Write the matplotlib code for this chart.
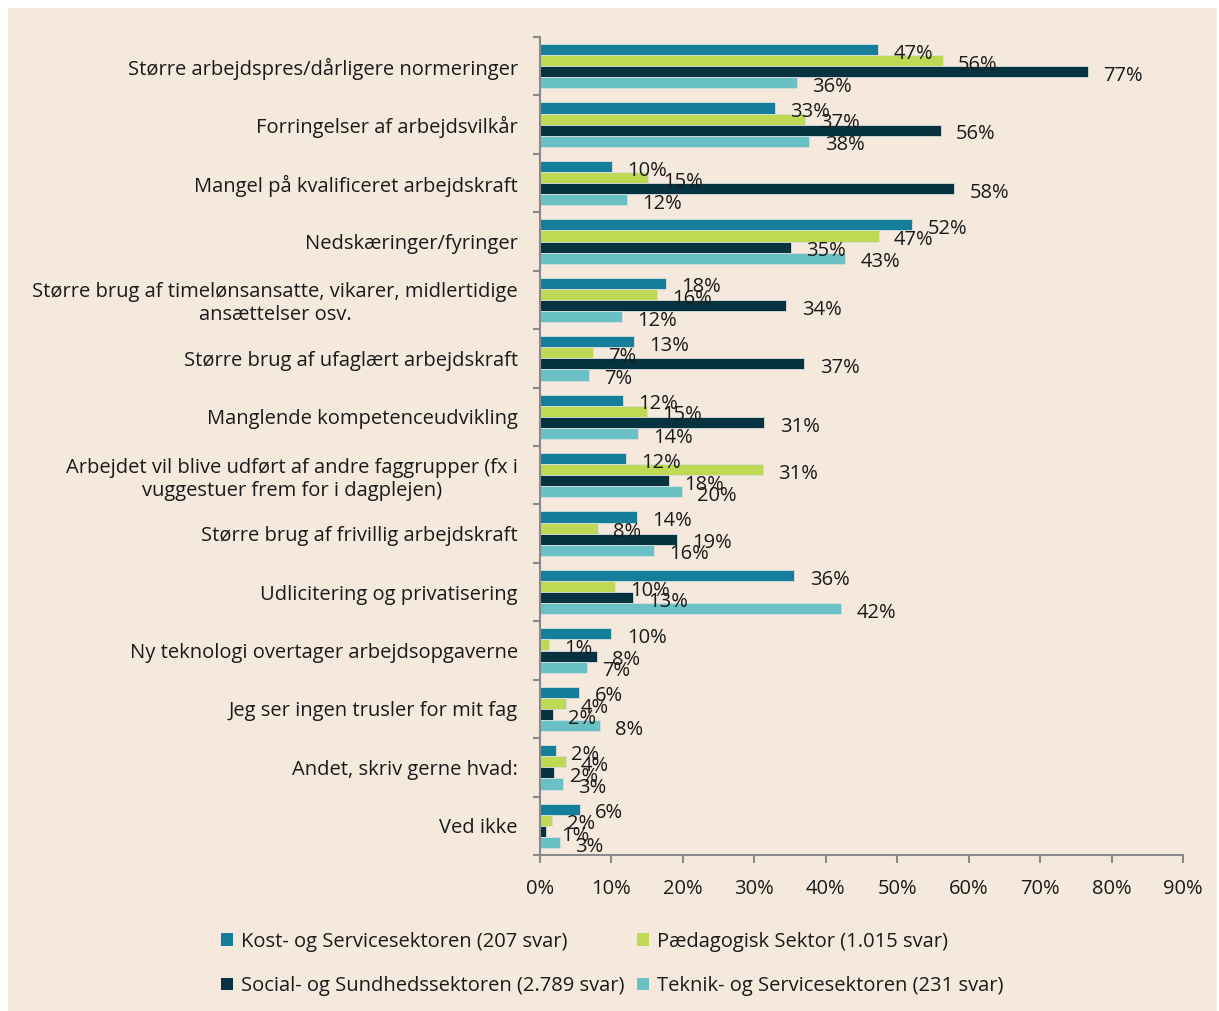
import numpy as np
import matplotlib.pyplot as plt
from matplotlib.patches import Rectangle, Patch

# ============================================================================
# 데이터
# ============================================================================
categories = [
    "Større arbejdspres/dårligere normeringer",
    "Forringelser af arbejdsvilkår",
    "Mangel på kvalificeret arbejdskraft",
    "Nedskæringer/fyringer",
    "Større brug af timelønsansatte, vikarer, midlertidige\nansættelser osv.",
    "Større brug af ufaglært arbejdskraft",
    "Manglende kompetenceudvikling",
    "Arbejdet vil blive udført af andre faggrupper (fx i\nvuggestuer frem for i dagplejen)",
    "Større brug af frivillig arbejdskraft",
    "Udlicitering og privatisering",
    "Ny teknologi overtager arbejdsopgaverne",
    "Jeg ser ingen trusler for mit fag",
    "Andet, skriv gerne hvad:",
    "Ved ikke",
]

kost   = [47.3, 32.9, 10.1, 52.1, 17.6, 13.2, 11.6, 12.0, 13.6, 35.6, 10.0, 5.5, 2.2, 5.6]
paed   = [56.4, 37.1, 15.1, 47.4, 16.4, 7.4, 15.0, 31.2, 8.1, 10.5, 1.3, 3.6, 3.6, 1.7]
social = [76.7, 56.1, 58.0, 35.1, 34.5, 37.0, 31.4, 18.1, 19.2, 13.0, 8.0, 1.8, 2.0, 0.8]
teknik = [36.0, 37.7, 12.2, 42.7, 11.5, 6.9, 13.7, 19.9, 15.9, 42.2, 6.6, 8.4, 3.2, 2.8]

series_names = [
    "Kost- og Servicesektoren (207 svar)",
    "Pædagogisk Sektor (1.015 svar)",
    "Social- og Sundhedssektoren (2.789 svar)",
    "Teknik- og Servicesektoren (231 svar)",
]
series_vals = [kost, paed, social, teknik]
colors = ["#147e9b", "#bfd955", "#073340", "#69c1c5"]

xticks = np.arange(0, 91, 10)

# ============================================================================
# 스타일
# ============================================================================
BG = "#f5e9dd"
SPINE = "#8a8a8a"
TXT = "#1a1a1a"
FS = 14.5
plt.rcParams["font.family"] = ["Open Sans", "DejaVu Sans"]

fig = plt.figure(figsize=(12.19, 10.11), dpi=100, facecolor="white")
# 배경 (위/왼쪽 흰 여백) — 축보다 먼저 그리도록 zorder 낮춤
fig.patches.append(Rectangle((8 / 1219, 0), 1209 / 1219, 1003 / 1011,
                             transform=fig.transFigure, facecolor=BG,
                             edgecolor="none", zorder=-5))

ax = fig.add_axes([540 / 1219, 156 / 1011, 643 / 1219, 818 / 1011])
ax.set_facecolor("none")

n = len(categories)
y = np.arange(n)
h = 0.19
offsets = np.array([-1.5, -0.5, 0.5, 1.5]) * h

for k, (vals, c) in enumerate(zip(series_vals, colors)):
    ax.barh(y + offsets[k], vals, height=h, color=c,
            edgecolor="#d9dedd", linewidth=0.6, zorder=2)
    for yi, v in zip(y + offsets[k], vals):
        ax.annotate(f"{v:.0f}%", (v, yi), xytext=(11, -3),
                    textcoords="offset points", ha="left", va="center",
                    fontsize=FS, color=TXT, zorder=3)

ax.set_xlim(0, 90)
ax.set_ylim(n - 0.5, -0.5)
ax.set_xticks(xticks)
ax.set_xticklabels([f"{t}%" for t in xticks], fontsize=FS, color=TXT)
ax.set_yticks(y)
ax.set_yticklabels(categories, fontsize=FS, color=TXT, multialignment="center")
ax.set_yticks(np.arange(n + 1) - 0.5, minor=True)

ax.tick_params(axis="y", which="major", length=0, pad=16)
ax.tick_params(axis="y", which="minor", length=5, width=1.5, color=SPINE)
ax.tick_params(axis="x", length=6, width=1.5, color=SPINE, pad=11)

for s in ["top", "right"]:
    ax.spines[s].set_visible(False)
for s in ["left", "bottom"]:
    ax.spines[s].set_color(SPINE)
    ax.spines[s].set_linewidth(1.5)

# ============================================================================
# 범례 — 행 단위 순서(2열)로 맞추기 위해 재배열
# ============================================================================
order = [0, 2, 1, 3]
handles = [Patch(facecolor=colors[i], edgecolor="none") for i in order]
labels = [series_names[i] for i in order]
fig.legend(handles, labels, loc="center", ncol=2,
           bbox_to_anchor=(612 / 1219, 1 - 964 / 1011), frameon=False,
           fontsize=FS, handlelength=0.6, handleheight=0.6, handletextpad=0.4,
           columnspacing=0.6, labelspacing=1.2, labelcolor=TXT)

fig.savefig("out.png", dpi=100, facecolor="white")
